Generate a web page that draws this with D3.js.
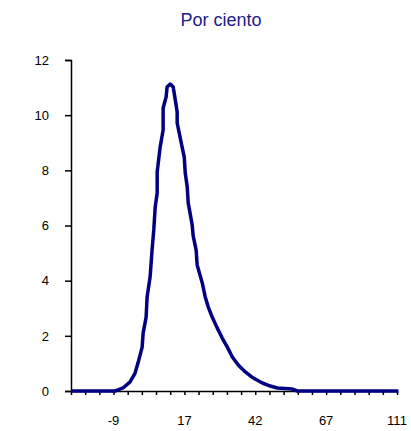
<!DOCTYPE html>
<html><head><meta charset="utf-8">
<script src="https://cdn.jsdelivr.net/npm/d3@7"></script>
<style>body{margin:0;background:#fff}</style>
</head><body>
<svg id="c" width="411" height="431"></svg>
<script>
// Category positions (in tick-interval units) and percentage values
const positions = [0,3.11,3.32,3.67,4.17,4.52,4.73,5.02,5.09,5.30,5.37,5.58,5.72,5.84,5.94,6.08,6.08,6.29,6.50,6.50,6.71,6.78,7.00,7.21,7.28,7.49,7.49,7.84,7.99,8.06,8.20,8.27,8.41,8.55,8.62,8.83,8.90,9.26,9.47,9.68,9.96,10.32,10.67,11.02,11.38,11.80,12.30,12.86,13.50,14.06,14.56,15.62,15.97,23.1];
const values    = [0,0,0.04,0.11,0.33,0.65,1.02,1.59,2.10,2.68,3.41,4.13,5.11,5.84,6.67,7.18,7.94,8.84,9.46,10.26,10.66,11.02,11.13,11.02,10.80,10.12,9.72,8.84,8.48,7.90,7.40,6.82,6.42,6.02,5.62,5.11,4.57,3.92,3.41,3.05,2.68,2.28,1.92,1.60,1.23,0.94,0.69,0.47,0.29,0.18,0.11,0.07,0,0];
const xTickCount = 23;
const xLabelPositions = [3,8,13,18,23];
const xLabels = ["-9","17","42","67","111"];
const yTicks = [0,2,4,6,8,10,12];
const title = "Por ciento";

const font = "Liberation Sans, Arial, sans-serif";
const svg = d3.select("#c");
const x = d3.scaleLinear().domain([0, xTickCount]).range([71, 397]);
const y = d3.scaleLinear().domain([0, 12]).range([391, 60]);

svg.append("text").attr("x", 221).attr("y", 26).attr("text-anchor","middle")
  .attr("font-family",font).attr("font-size",18)
  .attr("fill","#1c1c8c").text(title);

// Y axis
const yAx = svg.append("g").attr("transform","translate(71,0)")
  .call(d3.axisLeft(y).tickValues(yTicks).tickSize(6).tickPadding(16).tickFormat(d3.format("d")));
yAx.select(".domain").attr("stroke","#000").attr("stroke-width",1.5);
yAx.selectAll(".tick line").attr("stroke","#000").attr("stroke-width",1.5);
yAx.selectAll("text").attr("font-family",font).attr("font-size",13).attr("fill","#000");

// X axis
const xAx = svg.append("g").attr("transform","translate(0,391)")
  .call(d3.axisBottom(x).tickValues(d3.range(0, xTickCount+1)).tickSize(4).tickSizeOuter(0).tickFormat(""));
xAx.select(".domain").attr("stroke","#000").attr("stroke-width",1.5);
xAx.selectAll(".tick line").attr("stroke","#000").attr("stroke-width",1.5);

svg.append("g").selectAll("text").data(xLabelPositions).join("text")
  .attr("x", d => x(d)).attr("y", 425).attr("text-anchor","middle")
  .attr("font-family",font).attr("font-size",13).attr("fill","#000")
  .text((d,i) => xLabels[i]);

// Line
const line = d3.line().x((d,i) => x(positions[i])).y(d => y(d));
svg.append("path").datum(values).attr("d", line).attr("fill","none")
  .attr("stroke","#000080").attr("stroke-width",3.5).attr("stroke-linejoin","round");
</script>
</body></html>
